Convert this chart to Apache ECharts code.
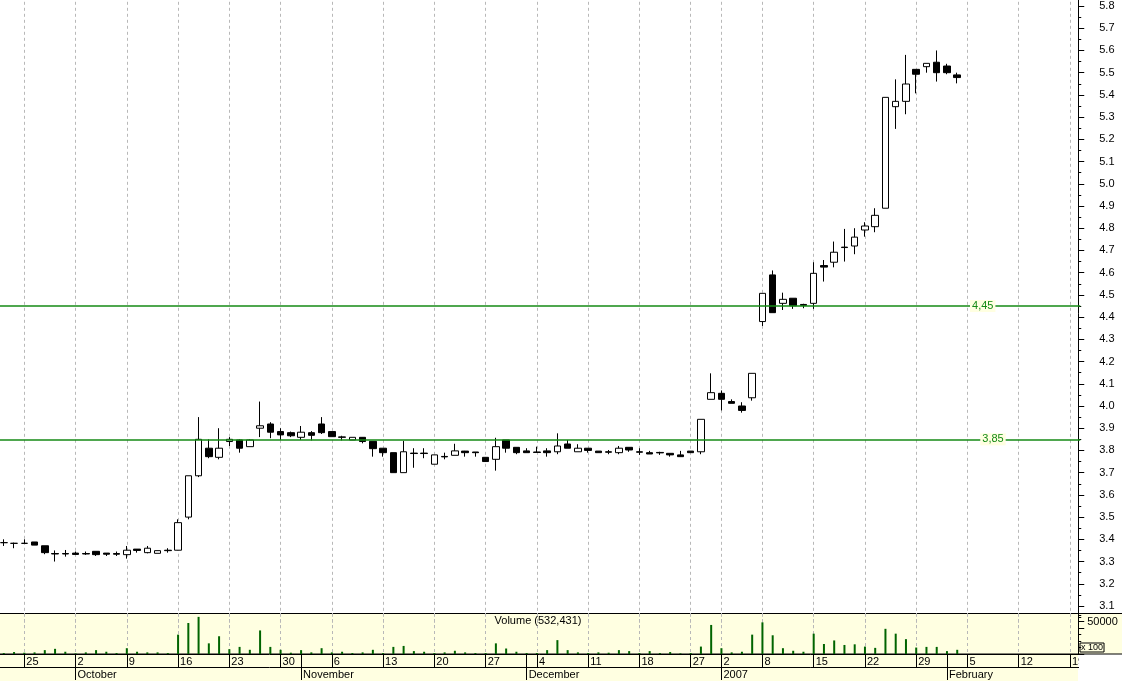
<!DOCTYPE html>
<html><head><meta charset="utf-8">
<script src="https://cdn.jsdelivr.net/npm/echarts@6/dist/echarts.min.js"></script>
<style>html,body{margin:0;padding:0;background:#fff}#c{width:1122px;height:681px}</style>
</head><body><div id="c"></div>
<script>
// Trading days (UK market, holidays excluded)
const categories = [
'2006-09-20','2006-09-21','2006-09-22','2006-09-25','2006-09-26','2006-09-27','2006-09-28','2006-09-29',
'2006-10-02','2006-10-03','2006-10-04','2006-10-05','2006-10-06','2006-10-09','2006-10-10','2006-10-11','2006-10-12','2006-10-13',
'2006-10-16','2006-10-17','2006-10-18','2006-10-19','2006-10-20','2006-10-23','2006-10-24','2006-10-25','2006-10-26','2006-10-27',
'2006-10-30','2006-10-31',
'2006-11-01','2006-11-02','2006-11-03','2006-11-06','2006-11-07','2006-11-08','2006-11-09','2006-11-10','2006-11-13','2006-11-14',
'2006-11-15','2006-11-16','2006-11-17','2006-11-20','2006-11-21','2006-11-22','2006-11-23','2006-11-24','2006-11-27','2006-11-28',
'2006-11-29','2006-11-30',
'2006-12-01','2006-12-04','2006-12-05','2006-12-06','2006-12-07','2006-12-08','2006-12-11','2006-12-12','2006-12-13','2006-12-14',
'2006-12-15','2006-12-18','2006-12-19','2006-12-20','2006-12-21','2006-12-22','2006-12-27','2006-12-28','2006-12-29',
'2007-01-02','2007-01-03','2007-01-04','2007-01-05','2007-01-08','2007-01-09','2007-01-10','2007-01-11','2007-01-12','2007-01-15',
'2007-01-16','2007-01-17','2007-01-18','2007-01-19','2007-01-22','2007-01-23','2007-01-24','2007-01-25','2007-01-26','2007-01-29',
'2007-01-30','2007-01-31',
'2007-02-01','2007-02-02','2007-02-05','2007-02-06','2007-02-07','2007-02-08','2007-02-09','2007-02-12','2007-02-13','2007-02-14',
'2007-02-15','2007-02-16','2007-02-19','2007-02-20'
];
const weekStarts = ['2006-09-25','2006-10-02','2006-10-09','2006-10-16','2006-10-23','2006-10-30','2006-11-06','2006-11-13',
'2006-11-20','2006-11-27','2006-12-04','2006-12-11','2006-12-18','2006-12-27','2007-01-02','2007-01-08','2007-01-15','2007-01-22',
'2007-01-29','2007-02-05','2007-02-12','2007-02-19'];
const monthStarts = ['2006-10-02','2006-11-01','2006-12-01','2007-01-02','2007-02-01'];
const monthNames = ['October','November','December','2007','February'];

const openP = [null,
3.385,3.382,3.382,3.388,3.371,3.336,3.336,
3.338,3.336,3.346,3.338,3.336,
3.331,3.356,3.340,3.337,3.351,
3.351,3.500,3.686,3.810,3.769,
3.840,3.847,3.817,3.900,3.919,
3.885,3.880,
3.859,3.880,3.919,
3.885,3.861,3.847,3.859,3.841,
3.810,3.790,3.700,3.788,3.788,
3.738,3.773,3.778,3.797,3.793,
3.769,3.760,3.847,3.814,
3.798,
3.793,3.798,3.794,3.829,3.794,
3.810,3.797,3.794,3.790,3.814,
3.794,3.790,3.791,3.787,3.780,
3.797,3.794,4.030,
4.057,4.020,4.000,4.037,
4.380,4.590,4.462,4.485,4.457,
4.462,4.632,4.647,4.715,4.720,
4.792,4.807,4.890,5.347,5.371,
5.515,5.527,5.547,
5.530,5.490];
const closeP = [null,
3.385,3.382,3.382,3.374,3.340,3.334,3.334,
3.332,3.334,3.331,3.333,3.333,
3.351,3.350,3.360,3.349,3.349,
3.475,3.686,3.850,3.772,3.810,
3.850,3.810,3.847,3.911,3.882,
3.870,3.866,
3.882,3.868,3.880,
3.862,3.859,3.859,3.840,3.808,
3.790,3.700,3.794,3.786,3.786,
3.780,3.771,3.798,3.790,3.790,
3.750,3.817,3.810,3.790,
3.790,
3.791,3.790,3.820,3.810,3.810,
3.800,3.790,3.792,3.810,3.802,
3.792,3.784,3.789,3.780,3.772,
3.790,3.940,4.060,
4.030,4.012,3.980,4.147,
4.507,4.420,4.480,4.451,4.453,
4.597,4.625,4.692,4.713,4.760,
4.810,4.858,5.389,5.371,5.449,
5.493,5.542,5.500,
5.500,5.478];
const lowP = [null,
3.370,3.360,3.380,3.374,3.333,3.300,3.322,
3.330,3.330,3.325,3.325,3.325,
3.313,3.340,3.337,3.337,3.340,
3.350,3.490,3.680,3.765,3.760,
3.820,3.790,3.817,3.860,3.855,
3.847,3.860,
3.847,3.845,3.874,
3.862,3.845,3.847,3.832,3.772,
3.772,3.700,3.700,3.722,3.765,
3.738,3.760,3.778,3.772,3.772,
3.749,3.709,3.790,3.783,
3.790,
3.790,3.772,3.783,3.810,3.794,
3.790,3.790,3.783,3.783,3.794,
3.780,3.784,3.780,3.772,3.772,
3.790,3.783,4.030,
3.980,4.012,3.970,4.024,
4.360,4.420,4.432,4.437,4.440,
4.437,4.560,4.624,4.650,4.683,
4.762,4.782,4.890,5.247,5.313,
5.407,5.500,5.460,
5.493,5.452];
const highP = [null,
3.400,3.385,3.400,3.388,3.371,3.350,3.352,
3.345,3.345,3.346,3.338,3.345,
3.370,3.356,3.370,3.349,3.360,
3.490,3.686,3.950,3.850,3.900,
3.860,3.850,3.850,4.020,3.927,
3.900,3.885,
3.910,3.887,3.950,
3.885,3.866,3.859,3.860,3.841,
3.810,3.790,3.843,3.810,3.810,
3.780,3.790,3.830,3.798,3.793,
3.769,3.857,3.847,3.814,
3.810,
3.817,3.810,3.877,3.847,3.828,
3.810,3.797,3.802,3.820,3.814,
3.810,3.798,3.794,3.787,3.798,
3.797,3.940,4.147,
4.070,4.030,4.017,4.147,
4.507,4.610,4.510,4.485,4.460,
4.647,4.657,4.740,4.797,4.800,
4.827,4.890,5.389,5.470,5.580,
5.515,5.542,5.600,
5.540,5.500];
// volume in hundreds
const volume = [null,
1500,3000,2000,2500,6000,8000,3500,
1000,2500,6000,3500,1500,
9000,3500,2500,2500,1500,
30000,48000,57500,16500,27500,
7500,11000,6500,36500,11000,
6500,2000,
6000,2500,9000,
2500,3500,1500,2500,6500,
1500,11000,12500,4500,3500,
1500,2500,5000,2500,1500,
1500,16500,8500,3500,
1500,
1500,6000,21500,6000,2500,
1500,2500,2000,6000,4500,
1500,4500,1500,3000,1000,
1500,11500,45000,
9000,2500,3500,30000,
49000,29000,9000,5000,3500,
31500,15500,21000,14000,15000,
11500,9500,39000,31500,23000,
10000,11000,11000,
4500,6500];
const refLevels = [4.45, 3.85];
const refLabels = ['4,45', '3,85'];
const refLabelDates = ['2007-02-06', '2007-02-07'];

const weekSet = new Set(weekStarts);
const tickSet = new Set(weekStarts.concat(monthStarts));
const monthMap = {};
monthStarts.forEach((d, i) => monthMap[d] = monthNames[i]);

const ohlc = categories.map((d, i) => (openP[i] == null) ? ['-', '-', '-', '-'] : [openP[i], closeP[i], lowP[i], highP[i]]);
const volData = categories.map((d, i) => (volume[i] == null) ? '-' : volume[i]);

const FONT = '"Liberation Sans", Arial, sans-serif';
const YEL = '#ffffe1';
const GREEN = '#148a14';
const GRIDC = '#b8b8b8';

const chart = echarts.init(document.getElementById('c'), null, {renderer: 'canvas'});
chart.setOption({
  animation: false,
  backgroundColor: '#ffffff',
  textStyle: {fontFamily: FONT},
  grid: [
    {left: -6.46, width: 1086.7, top: -16.2, height: 644.4, containLabel: false, outerBoundsMode: 'none'},
    {left: -6.46, width: 1086.7, top: 613, height: 41, containLabel: false, outerBoundsMode: 'none'}
  ],
  xAxis: [
    {type: 'category', gridIndex: 0, data: categories, boundaryGap: false,
     axisLine: {show: false}, axisTick: {show: false}, axisLabel: {show: false},
     splitLine: {show: true, interval: (i, v) => weekSet.has(v), lineStyle: {color: GRIDC, type: [3, 3], width: 1}}},
    {type: 'category', gridIndex: 1, data: categories, boundaryGap: false, position: 'bottom',
     axisLine: {show: true, onZero: false, lineStyle: {color: '#000', width: 1}},
     axisTick: {show: true, interval: (i, v) => tickSet.has(v), length: 13, lineStyle: {color: '#000', width: 1}},
     axisLabel: {show: true, interval: (i, v) => weekSet.has(v), formatter: v => String(parseInt(v.slice(8), 10)),
       align: 'left', margin: 2, padding: [0, 0, 0, 2], fontSize: 11, color: '#000', fontFamily: FONT},
     splitLine: {show: true, interval: (i, v) => weekSet.has(v), lineStyle: {color: GRIDC, type: [3, 3], width: 1}}},
    {type: 'category', gridIndex: 1, data: categories, boundaryGap: false, position: 'bottom', offset: 13,
     axisLine: {show: true, onZero: false, lineStyle: {color: '#000', width: 1}},
     axisTick: {show: true, interval: (i, v) => (v in monthMap), length: 13, lineStyle: {color: '#000', width: 1}},
     axisLabel: {show: true, interval: (i, v) => (v in monthMap), formatter: v => monthMap[v] || '',
       align: 'left', margin: 2, padding: [0, 0, 0, 2], fontSize: 11, color: '#000', fontFamily: FONT},
     splitLine: {show: false}}
  ],
  yAxis: [
    {type: 'value', gridIndex: 0, position: 'right', offset: -2, min: 3.0, max: 5.9, interval: 0.1,
     axisLine: {show: true, lineStyle: {color: '#000', width: 1}},
     axisTick: {show: true, length: 6, lineStyle: {color: '#000'}},
     minorTick: {show: true, splitNumber: 2, length: 3, lineStyle: {color: '#000'}},
     axisLabel: {margin: 21, fontSize: 11, color: '#000', fontFamily: FONT,
       formatter: v => (v < 3.05 || v > 5.85) ? '' : v.toFixed(1)},
     splitLine: {show: false}},
    {type: 'value', gridIndex: 1, position: 'right', offset: -2, min: 0, max: 63500, interval: 50000,
     axisLine: {show: true, lineStyle: {color: '#000', width: 1}},
     axisTick: {show: true, length: 6, lineStyle: {color: '#000'}},
     minorTick: {show: true, splitNumber: 5, length: 3, lineStyle: {color: '#000'}},
     axisLabel: {margin: 9, fontSize: 11, color: '#000', fontFamily: FONT,
       formatter: v => (Math.abs(v - 50000) < 1) ? '50000' : ''},
     splitLine: {show: false}}
  ],
  series: [
    {type: 'candlestick', name: 'Price', xAxisIndex: 0, yAxisIndex: 0, data: ohlc, barWidth: 7,
     itemStyle: {color: '#ffffff', color0: '#000000', borderColor: '#000000', borderColor0: '#000000', borderColorDoji: '#000000', borderWidth: 1},
     markLine: {silent: true, symbol: ['none', 'none'], label: {show: false},
       lineStyle: {color: GREEN, width: 1.5, type: 'solid'},
       data: refLevels.map(v => ({yAxis: v}))},
     markPoint: {silent: true, symbol: 'rect', symbolSize: 1, itemStyle: {color: 'rgba(0,0,0,0)'},
       label: {show: true, position: 'inside', color: GREEN, backgroundColor: YEL, padding: [1, 2, 0, 2], fontSize: 11, fontFamily: FONT},
       data: refLevels.map((v, i) => ({coord: [refLabelDates[i], v], symbolOffset: [5, 0], label: {formatter: refLabels[i]}}))}
    },
    {type: 'bar', name: 'Volume', xAxisIndex: 1, yAxisIndex: 1, data: volData, barWidth: 2,
     itemStyle: {color: '#006400'}, silent: true}
  ],
  graphic: [
    {type: 'rect', silent: true, z: -100, shape: {x: -1, y: 613.5, width: 1124, height: 40.5}, style: {fill: YEL, stroke: '#000', lineWidth: 1}},
    {type: 'rect', silent: true, z: -100, shape: {x: 0, y: 654, width: 1078, height: 27}, style: {fill: YEL}},
    {type: 'rect', silent: true, z: 100, shape: {x: 1079, y: 655, width: 43, height: 26}, style: {fill: '#ffffff'}},
    {type: 'text', silent: true, z: 100, x: 538, y: 621, style: {text: 'Volume (532,431)', fill: '#000', font: '11px ' + FONT, textAlign: 'center', textVerticalAlign: 'middle'}},
    {type: 'text', silent: true, z: 100, x: 1080, y: 643, style: {text: 'x 100', fill: '#000', font: '9px ' + FONT, borderColor: '#000', borderWidth: 1, padding: [0, 1, 0, 1]}}
  ]
});
</script>
</body></html>
